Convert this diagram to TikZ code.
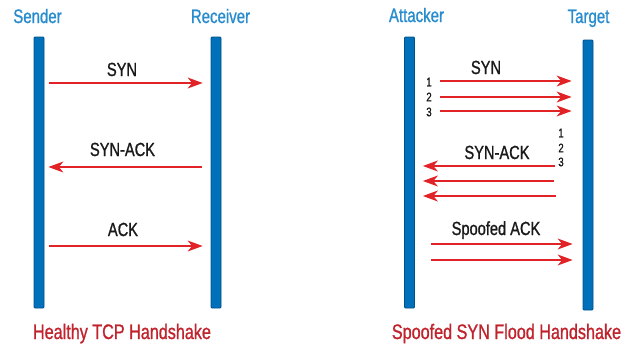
\documentclass[tikz,border=0pt]{standalone}
\usepackage{fontspec}
\setmainfont[FakeStretch=0.77,FakeBold=1.0]{Liberation Sans}
\usetikzlibrary{arrows.meta}
\definecolor{barblue}{RGB}{0,112,186}
\definecolor{bardark}{RGB}{0,80,140}
\definecolor{headblue}{RGB}{40,140,205}
\definecolor{arrred}{RGB}{225,35,40}
\definecolor{titlered}{RGB}{193,35,45}
\begin{document}
\begin{tikzpicture}[x=1pt,y=-1pt,
  bar/.style={draw=bardark,fill=barblue,line width=0.8pt,rounded corners=1pt,minimum width=10pt,inner sep=0pt},
  head/.style={anchor=base,text=headblue,font=\fontsize{19.5}{22}\selectfont,inner sep=0pt},
  title/.style={anchor=base,text=titlered,font=\fontsize{21}{24}\selectfont,inner sep=0pt},
  lbl/.style={anchor=base,text=black!90,font=\fontsize{19}{22}\selectfont,inner sep=0pt},
  num/.style={text=black!90,font=\fontsize{12.5}{13}\selectfont,inner sep=0pt},
  msg/.style={draw=arrred,line width=1.3pt,-{Stealth[length=15pt,width=11pt,inset=4.5pt]}}]
\useasboundingbox (0,0) rectangle (631,346);
% bars
\node[bar,minimum height=271pt] (sender) at (39,172.5) {};
\node[bar,minimum height=271pt] (receiver) at (216,172.5) {};
\node[bar,minimum height=271pt] (attacker) at (409.5,172.5) {};
\node[bar,minimum height=270pt] (target) at (588,175) {};
% headers
\node[head] (hs) at (37.5,23) {Sender};
\node[head] (hr) at (220.5,23) {Receiver};
\node[head] (ha) at (416.5,22) {Attacker};
\node[head] (ht) at (588.5,23) {Target};
% titles
\node[title] (t1) at (122,339) {Healthy TCP Handshake};
\node[title] (t2) at (506.5,339) {Spoofed SYN Flood Handshake};
% y levels
\coordinate (a1) at (0,83);
\coordinate (a2) at (0,167);
\coordinate (a3) at (0,246);
\coordinate (b1) at (0,81);
\coordinate (b2) at (0,97);
\coordinate (b3) at (0,111);
\coordinate (c1) at (0,166);
\coordinate (c2) at (0,181);
\coordinate (c3) at (0,196);
\coordinate (d1) at (0,244);
\coordinate (d2) at (0,260);
% left
\node[lbl] (lsyn) at (122,76) {SYN};
\node[lbl] (lsynack) at (122.5,156) {SYN-ACK};
\node[lbl] (lack) at (123,236) {ACK};
\draw[msg,shorten <=5pt,shorten >=8pt] (sender.east |- a1) -- (receiver.west |- a1);
\draw[msg,shorten <=9pt,shorten >=4pt] (receiver.west |- a2) -- (sender.east |- a2);
\draw[msg,shorten <=5pt,shorten >=8pt] (sender.east |- a3) -- (receiver.west |- a3);
% right
\node[lbl] (rsyn) at (486,74) {SYN};
\node[lbl] (rsynack) at (497,159) {SYN-ACK};
\node[lbl] (rack) at (496,235) {Spoofed ACK};
\node[num] (n1) at (429,82) {1};
\node[num] (n2) at (429,97) {2};
\node[num] (n3) at (429,112) {3};
\node[num] (m1) at (561,133) {1};
\node[num] (m2) at (561,148) {2};
\node[num] (m3) at (561,162) {3};
\draw[msg,shorten <=25pt,shorten >=11pt] (attacker.east |- b1) -- (target.west |- b1);
\draw[msg,shorten <=25pt,shorten >=11pt] (attacker.east |- b2) -- (target.west |- b2);
\draw[msg,shorten <=25pt,shorten >=11pt] (attacker.east |- b3) -- (target.west |- b3);
\draw[msg,shorten <=28pt,shorten >=8pt] (target.west |- c1) -- (attacker.east |- c1);
\draw[msg,shorten <=29pt,shorten >=8pt] (target.west |- c2) -- (attacker.east |- c2);
\draw[msg,shorten <=27pt,shorten >=8pt] (target.west |- c3) -- (attacker.east |- c3);
\draw[msg,shorten <=16pt,shorten >=10pt] (attacker.east |- d1) -- (target.west |- d1);
\draw[msg,shorten <=16pt,shorten >=10pt] (attacker.east |- d2) -- (target.west |- d2);
\end{tikzpicture}
\end{document}
